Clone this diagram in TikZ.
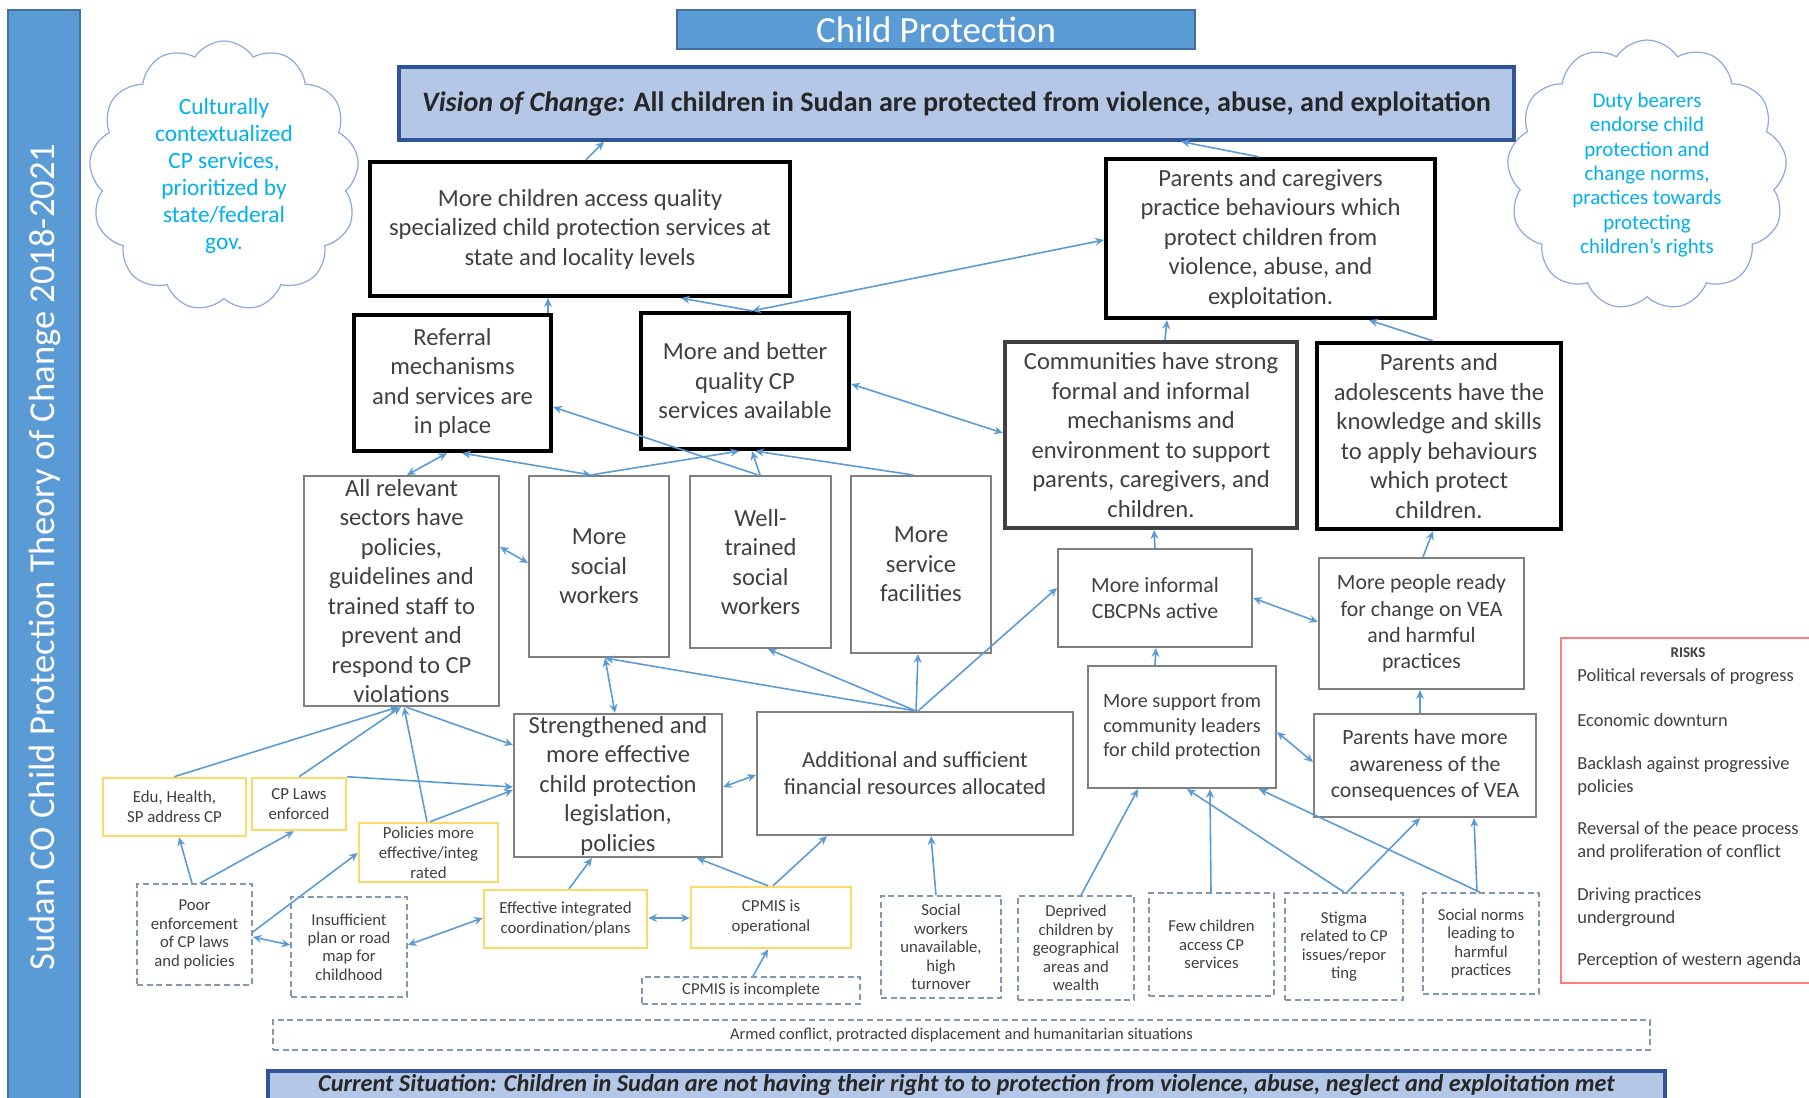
\documentclass[tikz,border=0pt]{standalone}
\usepackage{fontspec}
\setmainfont{Carlito}
\usetikzlibrary{calc, positioning, arrows.meta, shapes.symbols}

\definecolor{cpblue}{HTML}{5B9BD5}
\definecolor{cpdark}{HTML}{41719C}
\definecolor{visfill}{HTML}{B4C7E7}
\definecolor{visline}{HTML}{2F5597}
\definecolor{ink}{HTML}{404040}
\definecolor{boxgray}{HTML}{7F7F7F}
\definecolor{gold}{HTML}{FFD966}
\definecolor{dashgray}{HTML}{8497B0}
\definecolor{cloudline}{HTML}{8FAADC}
\definecolor{cloudtext}{HTML}{00B0F0}
\definecolor{riskred}{HTML}{FF7C80}

\newcommand{\fsz}[2]{\fontsize{#1}{#2}\selectfont}

\tikzset{
  spanbox/.style n args={4}{at={(#1/2+#3/2, #2/2+#4/2)}, minimum width={(#3-#1)*0.02cm}, minimum height={(#4-#2)*0.02cm}},
  goalbox/.style={draw=black, line width=2.4pt, fill=white, inner sep=0pt, text=ink, align=center, font=\fsz{14}{16.8}},
  commbox/.style={goalbox, draw=black!75},
  outbox/.style={draw=boxgray, line width=1.2pt, fill=white, inner sep=0pt, text=ink, align=center, font=\fsz{14}{16.8}},
  midbox/.style={outbox, font=\fsz{12.4}{15}},
  inbox/.style={draw=gold, line width=1.4pt, fill=white, inner sep=0pt, text=ink, align=center, font=\fsz{9.6}{11.4}},
  rootbox/.style={draw=dashgray, line width=0.9pt, dash pattern=on 3.5pt off 2pt, fill=white, inner sep=0pt, text=ink, align=center, font=\fsz{9.5}{10.5}},
  cloudbox/.style={cloud, cloud puffs=13, cloud puff arc=115, cloud ignores aspect, draw=cloudline, line width=0.7pt, text=cloudtext, align=center, inner sep=0pt},
  arr/.style={draw=cpblue, line width=0.9pt, -{Stealth[length=5pt, width=4.5pt]}},
  darr/.style={arr, {Stealth[length=5pt, width=4.5pt]}-{Stealth[length=5pt, width=4.5pt]}},
}

\begin{document}
\begin{tikzpicture}[x=0.02cm, y=-0.02cm]

  \useasboundingbox (0,0) rectangle (1809,1098);
  \fill[white] (0,0) rectangle (1809,1098);

  % banner and headers
  \node[fill=cpblue, draw=cpdark, line width=0.8pt, inner sep=0pt, spanbox={8}{10}{80}{1120}] (bar) {};
  \node[rotate=90, text=white, font=\fsz{20.8}{24}] (bartext) at (45,557) {Sudan CO Child Protection Theory of Change 2018-2021};
  \node[fill=cpblue, draw=cpdark, line width=0.8pt, inner sep=0pt, text=white, font=\fsz{21}{25}, spanbox={677}{10}{1195}{49}] (title) {Child Protection};
  \node[fill=visfill, draw=visline, line width=1.8pt, inner sep=0pt, text=black!85, font=\bfseries\fsz{16}{19}, spanbox={399}{67}{1514}{140}] (vis) {\textit{Vision of Change:} All children in Sudan are protected from violence, abuse, and exploitation};

  % clouds
  \node[cloudbox, minimum width=5.4cm, minimum height=5.4cm, font=\fsz{13.3}{15.3}] (cloudl) at (224,176) {Culturally\\contextualized\\CP services,\\prioritized by\\state/federal\\gov.};
  \node[cloudbox, minimum width=5.6cm, minimum height=5.4cm, font=\fsz{11.9}{13.9}] (cloudr) at (1647,175) {Duty bearers\\endorse child\\protection and\\change norms,\\practices towards\\protecting\\children's rights};

  % outcomes
  \node[goalbox, spanbox={370}{162}{790}{296}] (acc) {More children access quality\\specialized child protection  services at\\state and locality levels};
  \node[goalbox, spanbox={1106}{159}{1435}{318}] (prac) {Parents and caregivers\\practice behaviours which\\protect children from\\violence, abuse, and\\exploitation.};
  \node[goalbox, spanbox={354}{315}{551}{451}] (refr) {Referral\\mechanisms\\and services are\\in place};
  \node[goalbox, spanbox={641}{313}{849}{449}] (serv) {More and better\\quality CP\\services available};
  \node[commbox, spanbox={1005}{342}{1297}{528}] (comm) {Communities have strong\\formal and informal\\mechanisms and\\environment  to support\\parents, caregivers, and\\children.};
  \node[goalbox, spanbox={1317}{343}{1561}{529}] (know) {Parents and\\adolescents have the\\knowledge and skills\\to apply behaviours\\which protect\\children.};

  % intermediate results
  \node[outbox, spanbox={304}{476}{499}{706}] (sect) {All relevant\\sectors have\\policies,\\guidelines and\\trained staff to\\prevent and\\respond to CP\\violations};
  \node[outbox, spanbox={529}{476}{669}{657}] (socw) {More\\social\\workers};
  \node[outbox, spanbox={690}{476}{831}{648}] (trnd) {Well-\\trained\\social\\workers};
  \node[outbox, spanbox={851}{476}{991}{653}] (fac) {More\\service\\facilities};
  \node[midbox, spanbox={1058}{549}{1252}{647}] (cbcpn) {More informal\\CBCPNs active};
  \node[midbox, spanbox={1319}{558}{1524}{689}] (ready) {More people ready\\for change on VEA\\and harmful\\practices};
  \node[outbox, spanbox={514}{714}{722}{857}] (legi) {Strengthened  and\\more effective\\child protection\\legislation,\\policies};
  \node[midbox, font=\fsz{13}{15.3}, spanbox={757}{712}{1073}{835}] (fin) {Additional and sufficient\\financial resources allocated};
  \node[midbox, font=\fsz{11.5}{14}, spanbox={1088}{666}{1276}{788}] (supp) {More support from\\community leaders\\for child protection};
  \node[midbox, spanbox={1314}{714}{1536}{817}] (aware) {Parents have more\\awareness of  the\\consequences  of VEA};

  % enabling results
  \node[inbox, spanbox={103}{778}{246}{836}] (edu) {Edu, Health,\\SP address CP};
  \node[inbox, spanbox={252}{778}{346}{830}] (laws) {CP Laws\\enforced};
  \node[inbox, spanbox={359}{823}{498}{882}] (pol) {Policies more\\effective/integ\\rated};
  \node[inbox, spanbox={484}{890}{647}{948}] (coord) {Effective integrated\\coordination/plans};
  \node[inbox, spanbox={691}{887}{851}{948}] (mis) {CPMIS is\\operational};

  % root causes
  \node[rootbox, spanbox={137}{884}{252}{985}] (poor) {Poor\\enforcement\\of CP laws\\and policies};
  \node[rootbox, spanbox={291}{897}{407}{997}] (plan) {Insufficient\\plan or road\\map for\\childhood};
  \node[rootbox, spanbox={642}{977}{860}{1004}] (misinc) {CPMIS is incomplete};
  \node[rootbox, spanbox={881}{896}{1001}{998}] (unav) {Social\\workers\\unavailable,\\high\\turnover};
  \node[rootbox, spanbox={1018}{896}{1134}{1000}] (depr) {Deprived\\children by\\geographical\\areas and\\wealth};
  \node[rootbox, spanbox={1149}{893}{1274}{996}] (few) {Few children\\access CP\\services};
  \node[rootbox, spanbox={1285}{893}{1403}{1000}] (stig) {Stigma\\related to CP\\issues/repor\\ting};
  \node[rootbox, spanbox={1423}{893}{1539}{994}] (norm) {Social norms\\leading to\\harmful\\practices};
  \node[rootbox, font=\fsz{9.4}{10.5}, spanbox={273}{1020}{1650}{1050}] (armed) {Armed conflict, protracted displacement and humanitarian situations};

  % current situation
  \node[fill=visfill, draw=visline, line width=1.8pt, inner sep=0pt, text=black!85, font=\bfseries\itshape\fsz{13.8}{16}, spanbox={268}{1071}{1665}{1100}] (curr) {Current Situation: Children in Sudan are not having their right to to protection from violence, abuse, neglect and exploitation met};

  % risks
  \node[draw=riskred, line width=1.4pt, inner sep=0pt, spanbox={1561}{638}{1830}{983}] (risks) {};
  \node[text=ink, font=\bfseries\fsz{8.5}{10}] (riskhead) at (1688,653) {RISKS};
  \foreach \ypos/\risk [count=\i] in {677/{Political reversals of progress}, 720/{Economic downturn}, 776/{Backlash against progressive\\policies}, 841/{Reversal of the peace process\\and proliferation of conflict}, 907/{Driving practices\\underground}, 961/{Perception of western agenda}}
    \node[anchor=west, align=left, text=ink, font=\fsz{10.5}{13.2}, inner sep=0pt] (risk\i) at (1577,\ypos) {\risk};

  % links between outcomes
  \draw[arr] (acc.north -| 586,0) to (vis.south -| 604,0);
  \draw[arr] (prac.north -| 1259,0) to (vis.south -| 1181,0);
  \draw[arr] (refr.north -| 548,0) to (acc.south -| 548,0);
  \draw[arr] (serv.north -| 752,0) to (acc.south -| 681,0);
  \draw[darr] (serv.north -| 752,0) to (prac.west |- 0,240);
  \draw[arr] (comm.north -| 1165,0) to (prac.south -| 1167,0);
  \draw[arr] (know.north -| 1433,0) to (prac.south -| 1369,0);
  \draw[darr] (serv.east |- 0,384) to (comm.west |- 0,433);

  % links into referral and services
  \draw[arr] (trnd.north -| 758,0) to (refr.east |- 0,407);
  \draw[darr] (refr.south -| 447,0) to (sect.north -| 407,0);
  \draw[darr] (refr.south -| 462,0) to (socw.north -| 591,0);
  \draw[arr] (socw.north -| 591,0) to (serv.south -| 739,0);
  \draw[arr] (trnd.north -| 760,0) to (serv.south -| 752,0);
  \draw[arr] (fac.north -| 913,0) to (serv.south -| 755,0);
  \draw[darr] (sect.east |- 0,547) to (socw.west |- 0,563);

  % links from resources
  \draw[darr] (socw.south -| 605,0) to (legi.north -| 615,0);
  \draw[arr] (fin.north -| 916,0) to (socw.south -| 605,0);
  \draw[arr] (fin.north -| 916,0) to (trnd.south -| 768,0);
  \draw[arr] (fin.north -| 916,0) to (fac.south -| 918,0);
  \draw[arr] (fin.north -| 918,0) to (cbcpn.west |- 0,588);
  \draw[darr] (legi.east |- 0,787) to (fin.west |- 0,775);

  % community side
  \draw[arr] (cbcpn.north) to (comm.south -| 1154,0);
  \draw[arr] (ready.north -| 1423,0) to (know.south -| 1433,0);
  \draw[darr] (cbcpn.east |- 0,598) to (ready.west |- 0,622);
  \draw[arr] (supp.north -| 1155,0) to (cbcpn.south -| 1156,0);
  \draw[arr] (aware.north -| 1420,0) to (ready.south -| 1420,0);
  \draw[darr] (supp.east |- 0,732) to (aware.west |- 0,762);

  % enabling results to sectors and legislation
  \draw[arr] (edu.north -| 174,0) to (sect.south -| 398,0);
  \draw[arr] (laws.north -| 299,0) to (sect.south -| 401,0);
  \draw[arr] (pol.north -| 427,0) to (sect.south -| 404,0);
  \draw[arr] (sect.south -| 406,0) to (legi.west |- 0,745);
  \draw[arr] (laws.north east) to (legi.west |- 0,787);
  \draw[arr] (pol.north -| 430,0) to (legi.west |- 0,790);

  % root causes upwards
  \draw[arr] (poor.north -| 192,0) to (edu.south -| 179,0);
  \draw[arr] (poor.north -| 200,0) to (laws.south -| 294,0);
  \draw[darr] (poor.east |- 0,937) to (plan.west |- 0,945);
  \draw[arr] (poor.east |- 0,932) to (pol.west |- 0,853);
  \draw[darr] (plan.east |- 0,945) to (coord.west |- 0,918);
  \draw[arr] (coord.north -| 569,0) to (legi.south -| 592,0);
  \draw[darr] (coord.east |- 0,918) to (mis.west |- 0,918);
  \draw[arr] (mis.north -| 768,0) to (legi.south -| 697,0);
  \draw[arr] (mis.north -| 773,0) to (fin.south -| 827,0);
  \draw[arr] (misinc.north -| 753,0) to (mis.south -| 768,0);
  \draw[arr] (unav.north -| 936,0) to (fin.south -| 931,0);
  \draw[arr] (depr.north -| 1081,0) to (supp.south -| 1138,0);
  \draw[arr] (few.north -| 1211,0) to (supp.south -| 1210,0);
  \draw[arr] (stig.north -| 1344,0) to (supp.south -| 1187,0);
  \draw[arr] (stig.north -| 1347,0) to (aware.south -| 1420,0);
  \draw[arr] (norm.north -| 1480,0) to (supp.south -| 1259,0);
  \draw[arr] (norm.north -| 1477,0) to (aware.south -| 1474,0);

\end{tikzpicture}
\end{document}
